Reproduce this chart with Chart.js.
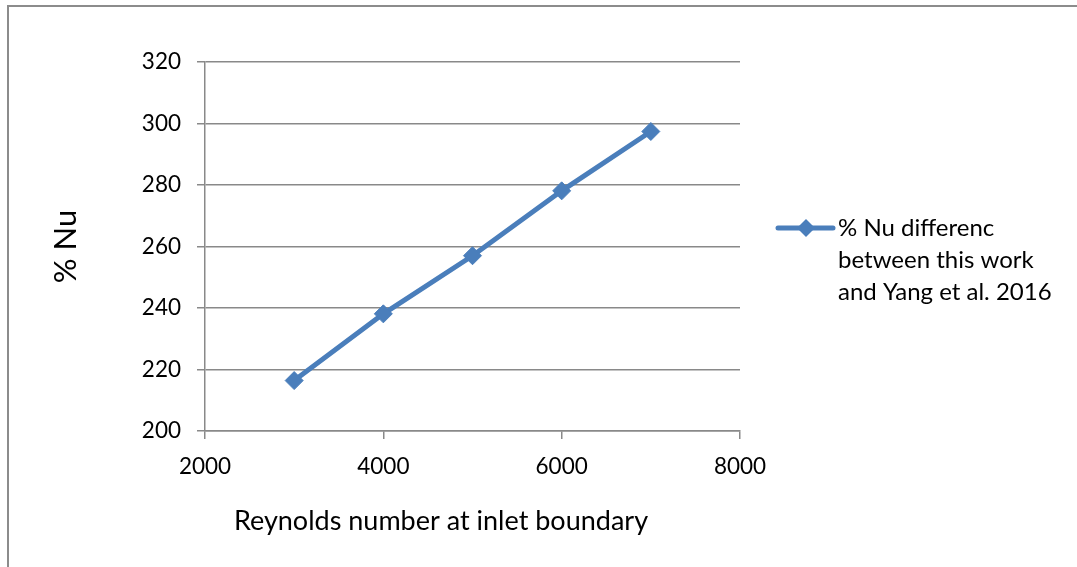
<!DOCTYPE html>
<html>
<head>
<meta charset="utf-8">
<script src="https://cdn.jsdelivr.net/npm/chart.js@4.4.1/dist/chart.umd.min.js"></script>
<style>
  html, body { margin: 0; padding: 0; background: #fff; }
  #wrap { position: relative; width: 1077px; height: 567px; overflow: hidden; }
  #frame { position: absolute; left: 7px; top: 5px; width: 1200px; height: 700px; border: 2px solid #8c8c8c; box-sizing: border-box; pointer-events: none; }
  canvas { position: absolute; left: 0; top: 0; }
</style>
</head>
<body>
<div id="wrap">
  <canvas id="c" width="1077" height="567"></canvas>
  <div id="frame"></div>
</div>
<script>
const reynolds = [3000, 4000, 5000, 6000, 7000];
const nuDiff = [216.4, 238.1, 257.0, 278.1, 297.4];
const seriesLabel = ['% Nu differenc', 'between this work', 'and Yang et al. 2016'];
const xTitle = 'Reynolds number at inlet boundary';
const yTitle = '% Nu';

const FONT = 'Lato, Calibri, Carlito, "Open Sans", sans-serif';
const BLUE = '#4a7ebb';
const GRID = '#898989';

const annotPlugin = {
  id: 'sideLegend',
  afterDraw(chart) {
    const ctx = chart.ctx;
    const ca = chart.chartArea;
    ctx.save();
    // x axis title (Excel centres it slightly left of the plot centre)
    ctx.fillStyle = '#000';
    ctx.font = '27px ' + FONT;
    ctx.textAlign = 'center';
    ctx.textBaseline = 'middle';
    ctx.fillText(xTitle, ca.left + 236, ca.bottom + 90);
    // legend
    const x0 = ca.right + 38;
    const y0 = ca.top + 166;
    ctx.strokeStyle = BLUE;
    ctx.lineWidth = 5;
    ctx.lineCap = 'round';
    ctx.beginPath();
    ctx.moveTo(x0, y0);
    ctx.lineTo(x0 + 55, y0);
    ctx.stroke();
    ctx.fillStyle = BLUE;
    const cx = x0 + 28, r = 9;
    ctx.beginPath();
    ctx.moveTo(cx, y0 - r);
    ctx.lineTo(cx + r, y0);
    ctx.lineTo(cx, y0 + r);
    ctx.lineTo(cx - r, y0);
    ctx.closePath();
    ctx.fill();
    ctx.fillStyle = '#000';
    ctx.font = '24px ' + FONT;
    ctx.textBaseline = 'middle';
    ctx.textAlign = 'left';
    seriesLabel.forEach((t, i) => ctx.fillText(t, x0 + 60, y0 + i * 32));
    ctx.restore();
  }
};

new Chart(document.getElementById('c'), {
  type: 'line',
  data: {
    datasets: [{
      label: seriesLabel.join(' '),
      data: reynolds.map((x, i) => ({ x: x, y: nuDiff[i] })),
      borderColor: BLUE,
      backgroundColor: BLUE,
      borderWidth: 5,
      pointStyle: 'rectRot',
      pointRadius: 9,
      pointHoverRadius: 9,
      pointBackgroundColor: BLUE,
      pointBorderColor: BLUE,
      pointBorderWidth: 1,
      tension: 0
    }]
  },
  options: {
    responsive: false,
    animation: false,
    devicePixelRatio: 1,
    layout: { padding: { top: 62, right: 337, bottom: 0, left: 0 } },
    plugins: { legend: { display: false }, tooltip: { enabled: false } },
    scales: {
      x: {
        type: 'linear',
        min: 2000, max: 8000,
        ticks: { stepSize: 2000, color: '#000', font: { family: FONT, size: 22.5 }, padding: 14, maxRotation: 0,
                 callback: (v) => String(v) },
        grid: { drawOnChartArea: false, drawTicks: true, tickLength: 8, color: GRID, lineWidth: 1.5 },
        border: { display: true, color: GRID, width: 1.5 },
        title: { display: false, text: xTitle },
        afterFit(scale) { scale.height = 136; }
      },
      y: {
        type: 'linear',
        min: 200, max: 320,
        ticks: { stepSize: 20, color: '#000', font: { family: FONT, size: 22.5 }, padding: 16 },
        grid: { drawOnChartArea: true, drawTicks: true, tickLength: 8, color: GRID, lineWidth: 1.5 },
        border: { display: true, color: GRID, width: 1.5 },
        title: { display: true, text: yTitle, color: '#000', font: { family: FONT, size: 31 }, padding: { top: 47, bottom: 0 } },
        afterFit(scale) { scale.width = 205; }
      }
    }
  },
  plugins: [annotPlugin]
});
</script>
</body>
</html>
